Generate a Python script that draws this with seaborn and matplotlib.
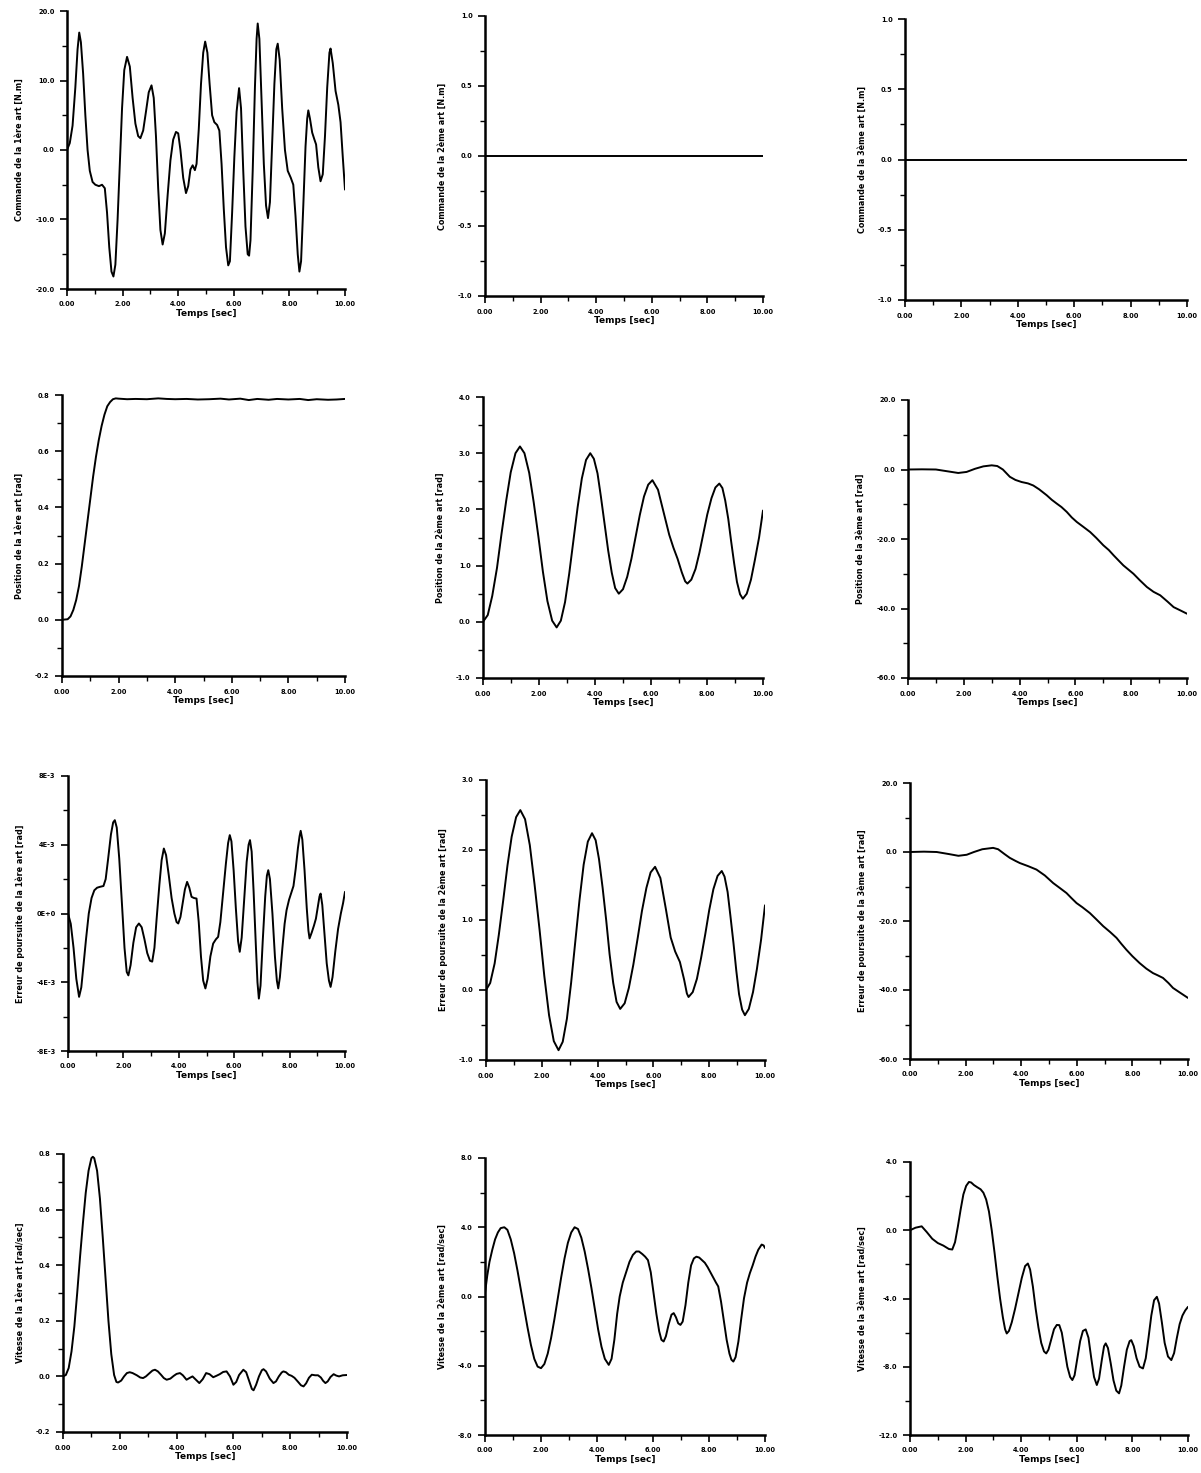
"""Simulation results: commands, positions, tracking errors and speeds of the 3 joints."""
import matplotlib
matplotlib.use("Agg")
import matplotlib.pyplot as plt
from matplotlib.ticker import MultipleLocator, FuncFormatter
import seaborn as sns

# ---- data ----
t_cmd1 = [0.0, 0.1, 0.2, 0.3, 0.38, 0.44, 0.5, 0.58, 0.66, 0.74, 0.82, 0.92, 1.02, 1.15, 1.26, 1.36,
          1.44, 1.52, 1.6, 1.67, 1.74, 1.82, 1.9, 1.98, 2.06, 2.16, 2.26, 2.36, 2.46, 2.56, 2.64, 2.74,
          2.84, 2.94, 3.04, 3.12, 3.2, 3.28, 3.36, 3.44, 3.52, 3.62, 3.72, 3.82, 3.92, 4.0, 4.08, 4.18,
          4.28, 4.36, 4.44, 4.52, 4.6, 4.66, 4.74, 4.82, 4.9, 4.97, 5.05, 5.13, 5.22, 5.3, 5.4, 5.48,
          5.56, 5.64, 5.72, 5.8, 5.86, 5.94, 6.02, 6.1, 6.19, 6.26, 6.34, 6.42, 6.5, 6.55, 6.6, 6.68,
          6.76, 6.82, 6.86, 6.92, 7.0, 7.08, 7.16, 7.23, 7.3, 7.38, 7.46, 7.53, 7.58, 7.65, 7.74, 7.84,
          7.94, 8.05, 8.14, 8.22, 8.3, 8.36, 8.42, 8.5, 8.58, 8.64, 8.68, 8.74, 8.82, 8.9, 8.96, 9.04,
          9.12, 9.2, 9.28, 9.36, 9.44, 9.48, 9.56, 9.66, 9.76, 9.84, 9.92, 10.0]
cmd1 = [0.0, 1.0, 3.5, 9.0, 14.5, 16.9, 15.5, 11.0, 5.0, 0.0, -3.0, -4.6, -5.0, -5.2, -5.0, -5.5,
        -9.0, -14.0, -17.5, -18.2, -16.5, -10.0, -2.0, 6.0, 11.5, 13.4, 12.0, 7.5, 3.8, 2.0, 1.7, 2.8,
        5.5, 8.3, 9.3, 7.5, 2.0, -5.5, -11.5, -13.6, -12.0, -6.5, -1.5, 1.5, 2.6, 2.4, 0.0, -4.0,
        -6.2, -5.2, -2.8, -2.2, -2.9, -2.0, 3.0, 9.5, 14.0, 15.6, 14.0, 9.5, 5.0, 4.0, 3.6, 2.8,
        -2.0, -8.5, -14.0, -16.6, -16.0, -9.0, -1.0, 5.5, 8.9, 6.0, -3.0, -11.0, -15.0, -15.2, -13.0, -3.0,
        9.0, 16.0, 18.2, 16.0, 7.0, -2.0, -8.0, -9.8, -7.5, 1.0, 9.5, 14.5, 15.3, 13.0, 6.0, 0.0,
        -3.0, -4.0, -5.0, -9.5, -15.0, -17.5, -16.0, -8.0, 0.5, 4.5, 5.7, 4.5, 2.5, 1.5, 0.8, -2.5,
        -4.5, -3.5, 2.0, 9.0, 14.0, 14.6, 12.5, 8.5, 6.5, 4.0, -1.0, -5.7]

t_flat = [0.0, 10.0]
cmd2 = [0.0, 0.0]
cmd3 = [0.0, 0.0]

t_pos1 = [0.0, 0.2, 0.3, 0.4, 0.5, 0.6, 0.7, 0.8, 0.9, 1.0, 1.1, 1.2, 1.3, 1.4, 1.5, 1.6, 1.7, 1.8,
          1.9, 2.0, 2.3, 2.6, 3.0, 3.4, 3.7, 4.0, 4.4, 4.8, 5.2, 5.6, 5.9, 6.3, 6.6, 6.9, 7.3, 7.6,
          8.0, 8.4, 8.7, 9.0, 9.4, 9.7, 10.0]
pos1 = [0.0, 0.002, 0.012, 0.035, 0.07, 0.12, 0.19, 0.27, 0.35, 0.43, 0.51, 0.58, 0.64, 0.69, 0.73,
        0.76, 0.775, 0.785, 0.788, 0.787, 0.785, 0.786, 0.785, 0.788, 0.786, 0.785, 0.786, 0.784,
        0.785, 0.787, 0.784, 0.787, 0.782, 0.786, 0.783, 0.786, 0.784, 0.786, 0.782, 0.785, 0.783,
        0.784, 0.786]

t_pos2 = [0.0, 0.17, 0.33, 0.5, 0.66, 0.83, 0.99, 1.16, 1.32, 1.48, 1.65, 1.81, 1.98, 2.14, 2.3, 2.47,
          2.63, 2.78, 2.93, 3.08, 3.23, 3.38, 3.53, 3.68, 3.83, 3.96, 4.09, 4.21, 4.34, 4.47, 4.6, 4.72,
          4.85, 5.0, 5.15, 5.3, 5.45, 5.6, 5.75, 5.9, 6.05, 6.25, 6.45, 6.65, 6.8, 6.95, 7.1, 7.22,
          7.3, 7.44, 7.59, 7.73, 7.87, 8.01, 8.16, 8.3, 8.44, 8.55, 8.65, 8.76, 8.86, 8.97, 9.07, 9.18,
          9.28, 9.42, 9.57, 9.71, 9.86, 10.0]
pos2 = [0.0, 0.12, 0.46, 0.96, 1.56, 2.16, 2.66, 3.0, 3.12, 3.0, 2.65, 2.13, 1.51, 0.89, 0.37, 0.02,
        -0.1, 0.02, 0.35, 0.86, 1.45, 2.04, 2.55, 2.88, 3.0, 2.9, 2.64, 2.23, 1.75, 1.27, 0.87, 0.6,
        0.5, 0.58, 0.8, 1.12, 1.51, 1.9, 2.23, 2.44, 2.52, 2.35, 1.95, 1.55, 1.32, 1.12, 0.88, 0.72,
        0.68, 0.75, 0.94, 1.23, 1.57, 1.91, 2.2, 2.39, 2.46, 2.38, 2.16, 1.83, 1.44, 1.04, 0.71, 0.49,
        0.41, 0.5, 0.75, 1.1, 1.5, 1.98]

t_pos3 = [0.0, 0.5, 1.0, 1.4, 1.8, 2.1, 2.4, 2.7, 3.0, 3.2, 3.4, 3.65, 3.85, 4.07, 4.3, 4.49, 4.7,
          4.97, 5.15, 5.33, 5.5, 5.69, 5.87, 6.05, 6.3, 6.53, 6.75, 7.0, 7.2, 7.37, 7.55, 7.72, 7.9,
          8.08, 8.3, 8.56, 8.8, 9.04, 9.3, 9.52, 9.75, 10.0]
pos3 = [0.0, 0.05, 0.0, -0.5, -1.0, -0.7, 0.2, 0.9, 1.2, 1.0, 0.0, -2.1, -3.0, -3.6, -4.0, -4.6, -5.7,
        -7.4, -8.7, -9.8, -10.8, -12.2, -13.8, -15.1, -16.6, -18.0, -19.7, -21.8, -23.2, -24.7, -26.2,
        -27.6, -28.8, -30.0, -31.8, -33.8, -35.2, -36.2, -38.0, -39.6, -40.5, -41.5]

# tracking error of joint 1, in units of 1E-3 rad
t_err1 = [0.0, 0.1, 0.2, 0.3, 0.4, 0.48, 0.56, 0.65, 0.75, 0.85, 0.95, 1.05, 1.15, 1.28, 1.36, 1.45,
          1.55, 1.63, 1.69, 1.76, 1.85, 1.95, 2.04, 2.12, 2.18, 2.26, 2.36, 2.46, 2.56, 2.66, 2.76, 2.86,
          2.96, 3.04, 3.12, 3.2, 3.3, 3.38, 3.46, 3.54, 3.64, 3.74, 3.84, 3.92, 3.98, 4.06, 4.14, 4.22,
          4.3, 4.38, 4.46, 4.55, 4.64, 4.72, 4.8, 4.88, 4.96, 5.04, 5.14, 5.24, 5.34, 5.42, 5.5, 5.6,
          5.7, 5.78, 5.84, 5.9, 5.98, 6.06, 6.14, 6.2, 6.27, 6.36, 6.45, 6.52, 6.57, 6.63, 6.7, 6.78,
          6.84, 6.89, 6.95, 7.03, 7.12, 7.18, 7.23, 7.29, 7.38, 7.47, 7.54, 7.59, 7.65, 7.74, 7.82, 7.89,
          7.98, 8.06, 8.14, 8.22, 8.3, 8.36, 8.4, 8.46, 8.54, 8.62, 8.68, 8.72, 8.8, 8.88, 8.95, 9.02,
          9.08, 9.12, 9.18, 9.26, 9.34, 9.42, 9.48, 9.55, 9.65, 9.75, 9.85, 9.93, 10.0]
err1 = [0.0, -0.6, -2.0, -3.8, -4.85, -4.3, -3.0, -1.5, 0.0, 0.9, 1.35, 1.5, 1.55, 1.6, 2.0, 3.2,
        4.6, 5.3, 5.43, 5.0, 3.2, 0.5, -2.0, -3.4, -3.6, -3.0, -1.7, -0.8, -0.58, -0.8, -1.5, -2.3,
        -2.75, -2.8, -2.0, -0.3, 1.7, 3.1, 3.78, 3.4, 2.2, 0.9, 0.0, -0.5, -0.58, -0.2, 0.6, 1.4,
        1.84, 1.5, 0.97, 0.9, 0.87, -0.5, -2.5, -3.9, -4.36, -3.8, -2.5, -1.75, -1.5, -1.36, -0.5, 1.2,
        2.9, 4.1, 4.56, 4.2, 2.5, 0.3, -1.6, -2.23, -1.4, 0.8, 3.0, 4.0, 4.27, 3.6, 1.3, -1.8,
        -4.0, -4.95, -4.2, -1.6, 1.0, 2.2, 2.52, 2.0, 0.0, -2.5, -3.9, -4.36, -3.7, -2.0, -0.6, 0.19,
        0.8, 1.2, 1.6, 2.6, 3.8, 4.5, 4.81, 4.3, 2.5, 0.3, -1.0, -1.45, -1.1, -0.7, -0.3, 0.4,
        1.0, 1.16, 0.5, -1.2, -2.9, -3.9, -4.27, -3.7, -2.2, -0.9, 0.0, 0.6, 1.26]

t_err2 = [0.0, 0.15, 0.31, 0.46, 0.62, 0.77, 0.92, 1.08, 1.23, 1.4, 1.57, 1.74, 1.92, 2.09, 2.26, 2.43,
          2.6, 2.75, 2.9, 3.05, 3.2, 3.35, 3.5, 3.65, 3.8, 3.93, 4.05, 4.18, 4.31, 4.43, 4.56, 4.68,
          4.81, 4.97, 5.12, 5.28, 5.44, 5.59, 5.75, 5.9, 6.06, 6.25, 6.45, 6.62, 6.78, 6.95, 7.1, 7.2,
          7.26, 7.41, 7.56, 7.71, 7.86, 8.0, 8.15, 8.3, 8.45, 8.55, 8.66, 8.76, 8.87, 8.97, 9.07, 9.18,
          9.28, 9.42, 9.57, 9.71, 9.86, 10.0]
err2 = [0.0, 0.1, 0.38, 0.79, 1.29, 1.78, 2.19, 2.47, 2.57, 2.44, 2.07, 1.51, 0.86, 0.2, -0.36, -0.73,
        -0.86, -0.74, -0.41, 0.1, 0.69, 1.28, 1.79, 2.12, 2.24, 2.14, 1.87, 1.46, 0.99, 0.51, 0.1, -0.17,
        -0.27, -0.19, 0.03, 0.36, 0.75, 1.13, 1.46, 1.68, 1.76, 1.6, 1.15, 0.75, 0.55, 0.4, 0.15, -0.05,
        -0.1, -0.03, 0.16, 0.46, 0.8, 1.14, 1.44, 1.63, 1.7, 1.62, 1.4, 1.06, 0.67, 0.28, -0.06, -0.28,
        -0.36, -0.27, -0.03, 0.3, 0.72, 1.21]

t_err3 = [0.0, 0.5, 0.96, 1.4, 1.74, 2.04, 2.3, 2.6, 2.99, 3.17, 3.4, 3.59, 3.8, 3.95, 4.25, 4.55, 4.85,
          5.15, 5.4, 5.63, 5.8, 5.99, 6.2, 6.47, 6.7, 6.95, 7.2, 7.43, 7.6, 7.78, 8.0, 8.26, 8.5, 8.74,
          8.9, 9.1, 9.3, 9.46, 9.7, 10.0]
err3 = [0.0, 0.1, 0.0, -0.6, -1.1, -0.8, 0.0, 0.8, 1.2, 0.8, -0.6, -1.7, -2.6, -3.2, -4.1, -5.1, -6.8,
        -9.0, -10.5, -11.9, -13.3, -14.8, -16.0, -17.7, -19.5, -21.5, -23.2, -24.9, -26.6, -28.3, -30.2,
        -32.2, -33.8, -35.1, -35.7, -36.5, -38.0, -39.4, -40.7, -42.3]

t_vit1 = [0.0, 0.1, 0.2, 0.3, 0.4, 0.5, 0.6, 0.7, 0.8, 0.9, 1.0, 1.05, 1.1, 1.2, 1.3, 1.4, 1.5, 1.6,
          1.7, 1.8, 1.88, 1.94, 2.05, 2.15, 2.25, 2.35, 2.45, 2.6, 2.72, 2.82, 2.92, 3.05, 3.15, 3.24,
          3.34, 3.45, 3.55, 3.65, 3.78, 3.9, 4.0, 4.12, 4.22, 4.35, 4.45, 4.56, 4.68, 4.8, 4.92, 5.04,
          5.16, 5.29, 5.4, 5.52, 5.64, 5.76, 5.88, 6.0, 6.1, 6.2, 6.35, 6.45, 6.55, 6.65, 6.71, 6.8,
          6.9, 7.0, 7.06, 7.15, 7.28, 7.41, 7.5, 7.6, 7.7, 7.76, 7.85, 7.95, 8.05, 8.15, 8.28, 8.38,
          8.47, 8.56, 8.66, 8.76, 8.88, 8.98, 9.08, 9.16, 9.24, 9.32, 9.42, 9.53, 9.62, 9.72, 9.85, 10.0]
vit1 = [0.0, 0.005, 0.03, 0.09, 0.18, 0.3, 0.43, 0.55, 0.66, 0.74, 0.785, 0.79, 0.785, 0.74, 0.64, 0.5,
        0.35, 0.2, 0.08, 0.005, -0.02, -0.022, -0.015, 0.0, 0.012, 0.015, 0.012, 0.004, -0.004, -0.006,
        0.0, 0.012, 0.021, 0.024, 0.018, 0.006, -0.006, -0.012, -0.008, 0.002, 0.009, 0.012, 0.004,
        -0.012, -0.006, 0.0, -0.012, -0.024, -0.01, 0.012, 0.008, -0.003, 0.002, 0.008, 0.016, 0.018,
        0.0, -0.03, -0.02, 0.005, 0.024, 0.015, -0.015, -0.045, -0.05, -0.03, 0.0, 0.022, 0.026, 0.018,
        -0.008, -0.024, -0.018, 0.0, 0.014, 0.018, 0.015, 0.006, 0.002, -0.005, -0.02, -0.032, -0.036,
        -0.025, -0.005, 0.006, 0.004, 0.004, -0.004, -0.016, -0.024, -0.018, -0.002, 0.008, 0.003, 0.0,
        0.004, 0.005]

t_vit2 = [0.0, 0.08, 0.16, 0.26, 0.36, 0.46, 0.56, 0.69, 0.8, 0.92, 1.04, 1.16, 1.28, 1.4, 1.52, 1.64,
          1.76, 1.88, 2.0, 2.12, 2.24, 2.36, 2.48, 2.6, 2.72, 2.84, 2.96, 3.08, 3.2, 3.32, 3.44, 3.56,
          3.68, 3.8, 3.92, 4.04, 4.16, 4.28, 4.42, 4.52, 4.62, 4.72, 4.81, 4.92, 5.04, 5.16, 5.28, 5.4,
          5.5, 5.62, 5.72, 5.82, 5.92, 6.02, 6.12, 6.22, 6.3, 6.38, 6.46, 6.56, 6.66, 6.74, 6.82, 6.9,
          6.98, 7.06, 7.16, 7.26, 7.36, 7.46, 7.55, 7.65, 7.75, 7.85, 7.95, 8.05, 8.15, 8.25, 8.33, 8.43,
          8.53, 8.63, 8.73, 8.8, 8.87, 8.95, 9.05, 9.15, 9.25, 9.36, 9.46, 9.56, 9.66, 9.76, 9.88, 9.95,
          10.0]
vit2 = [0.2, 1.2, 2.0, 2.7, 3.3, 3.7, 3.95, 4.0, 3.85, 3.3, 2.5, 1.5, 0.4, -0.7, -1.8, -2.8,
        -3.6, -4.05, -4.14, -3.9, -3.3, -2.4, -1.3, -0.1, 1.1, 2.2, 3.1, 3.7, 4.0, 3.9, 3.4, 2.6,
        1.6, 0.5, -0.7, -1.9, -2.9, -3.6, -3.95, -3.6, -2.5, -1.0, 0.0, 0.8, 1.4, 2.0, 2.4, 2.6,
        2.6, 2.45, 2.3, 2.1, 1.4, 0.2, -1.0, -2.0, -2.5, -2.6, -2.3, -1.6, -1.05, -0.96, -1.2, -1.55,
        -1.64, -1.45, -0.5, 0.8, 1.8, 2.2, 2.3, 2.25, 2.1, 1.95, 1.7, 1.4, 1.1, 0.8, 0.58, -0.3,
        -1.4, -2.5, -3.3, -3.65, -3.76, -3.5, -2.6, -1.3, -0.1, 0.8, 1.35, 1.8, 2.3, 2.7, 3.0, 2.95,
        2.8]

t_vit3 = [0.0, 0.2, 0.42, 0.6, 0.8, 1.0, 1.2, 1.4, 1.52, 1.62, 1.72, 1.82, 1.92, 2.02, 2.12, 2.2, 2.3,
          2.42, 2.54, 2.64, 2.74, 2.84, 2.94, 3.04, 3.14, 3.24, 3.34, 3.42, 3.48, 3.56, 3.66, 3.78, 3.9,
          4.02, 4.14, 4.24, 4.32, 4.42, 4.52, 4.62, 4.72, 4.82, 4.9, 4.98, 5.08, 5.18, 5.28, 5.37, 5.46,
          5.56, 5.66, 5.76, 5.84, 5.92, 6.02, 6.12, 6.22, 6.32, 6.42, 6.52, 6.62, 6.72, 6.8, 6.9, 6.98,
          7.04, 7.12, 7.22, 7.32, 7.42, 7.52, 7.6, 7.7, 7.8, 7.9, 7.96, 8.05, 8.15, 8.26, 8.38, 8.48,
          8.58, 8.68, 8.78, 8.88, 8.96, 9.06, 9.16, 9.28, 9.4, 9.5, 9.6, 9.7, 9.8, 9.9, 10.0]
vit3 = [0.0, 0.15, 0.23, -0.1, -0.5, -0.75, -0.9, -1.1, -1.13, -0.7, 0.2, 1.2, 2.1, 2.6, 2.83, 2.8, 2.65,
        2.52, 2.4, 2.2, 1.8, 1.1, 0.0, -1.3, -2.7, -4.0, -5.1, -5.8, -6.05, -5.9, -5.4, -4.6, -3.7,
        -2.8, -2.1, -1.95, -2.3, -3.3, -4.6, -5.7, -6.6, -7.1, -7.22, -7.0, -6.4, -5.8, -5.55, -5.56, -6.0,
        -7.0, -8.0, -8.6, -8.78, -8.5, -7.5, -6.5, -5.9, -5.81, -6.3, -7.5, -8.6, -9.07, -8.7, -7.6, -6.8,
        -6.63, -6.9, -7.8, -8.8, -9.4, -9.56, -9.1, -8.0, -7.0, -6.5, -6.44, -6.8, -7.5, -8.0, -8.1, -7.5,
        -6.3, -5.0, -4.1, -3.9, -4.3, -5.4, -6.6, -7.4, -7.61, -7.2, -6.3, -5.5, -5.0, -4.7, -4.49]

ylabels = ["Commande de la 1ère art [N.m]", "Commande de la 2ème art [N.m]", "Commande de la 3ème art [N.m]",
           "Position de la 1ère art [rad]", "Position de la 2ème art [rad]", "Position de la 3ème art [rad]",
           "Erreur de poursuite de la 1ère art [rad]", "Erreur de poursuite de la 2ème art [rad]",
           "Erreur de poursuite de la 3ème art [rad]",
           "Vitesse de la 1ère art [rad/sec]", "Vitesse de la 2ème art [rad/sec]", "Vitesse de la 3ème art [rad/sec]"]
err1_ticks = [-8, -4, 0, 4, 8]
err1_ticklabels = ["-8E-3", "-4E-3", "0E+0", "4E-3", "8E-3"]

W, H = 1201, 1473
# axes boxes in pixels: left, top, right, bottom
boxes = [(67, 11, 345, 289), (485, 16, 763, 296), (905, 19, 1187, 300),
         (62, 395, 345, 676), (483, 397, 763, 678), (908, 400, 1187, 678),
         (68, 776, 345, 1051), (486, 780, 765, 1060), (910, 783, 1188, 1059),
         (63, 1154, 347, 1432), (485, 1158, 765, 1435), (910, 1162, 1188, 1435)]

panels = [
    (t_cmd1, cmd1, -20, 20, 10),
    (t_flat, cmd2, -1, 1, 0.5),
    (t_flat, cmd3, -1, 1, 0.5),
    (t_pos1, pos1, -0.2, 0.8, 0.2),
    (t_pos2, pos2, -1, 4, 1),
    (t_pos3, pos3, -60, 20, 20),
    (t_err1, err1, -8, 8, 4),
    (t_err2, err2, -1, 3, 1),
    (t_err3, err3, -60, 20, 20),
    (t_vit1, vit1, -0.2, 0.8, 0.2),
    (t_vit2, vit2, -8, 8, 4),
    (t_vit3, vit3, -12, 4, 4),
]


def box(b):
    l, t, r, bo = b
    return [l / W, 1 - bo / H, (r - l) / W, (bo - t) / H]


sns.set_style("ticks")
plt.rcParams["font.family"] = ["DejaVu Sans"]
plt.rcParams["font.weight"] = "bold"
for key in ("text.color", "axes.labelcolor", "xtick.color", "ytick.color", "axes.edgecolor"):
    plt.rcParams[key] = "black"
fig = plt.figure(figsize=(W / 100, H / 100), dpi=100)

for i, (t, y, ymin, ymax, ystep) in enumerate(panels):
    ax = fig.add_axes(box(boxes[i]))
    sns.lineplot(x=t, y=y, ax=ax, color="black", linewidth=1.4, estimator=None, sort=False)
    ax.set_xlim(0, 10)
    ax.xaxis.set_major_locator(MultipleLocator(2))
    ax.xaxis.set_minor_locator(MultipleLocator(1))
    ax.xaxis.set_major_formatter(FuncFormatter(lambda v, p: f"{v:.2f}"))
    ax.yaxis.set_minor_locator(MultipleLocator(ystep / 2))
    if i == 6:
        ax.set_yticks(err1_ticks)
        ax.set_yticklabels(err1_ticklabels)
    else:
        ax.yaxis.set_major_locator(MultipleLocator(ystep))
        ax.yaxis.set_major_formatter(FuncFormatter(lambda v, p: f"{v:.1f}"))
    ax.set_ylim(ymin, ymax)
    ax.tick_params(which="major", direction="out", length=5, width=1.2, labelsize=4.8, pad=4)
    ax.tick_params(which="minor", direction="out", length=3.5, width=1.0)
    for s in ("left", "bottom"):
        ax.spines[s].set_linewidth(1.8)
    sns.despine(ax=ax)
    ax.set_xlabel("Temps [sec]", fontsize=6.5, fontweight="bold", labelpad=1)
    ax.set_ylabel(ylabels[i], fontsize=5.8, fontweight="bold", labelpad=8)

fig.savefig("out.png", dpi=100)
